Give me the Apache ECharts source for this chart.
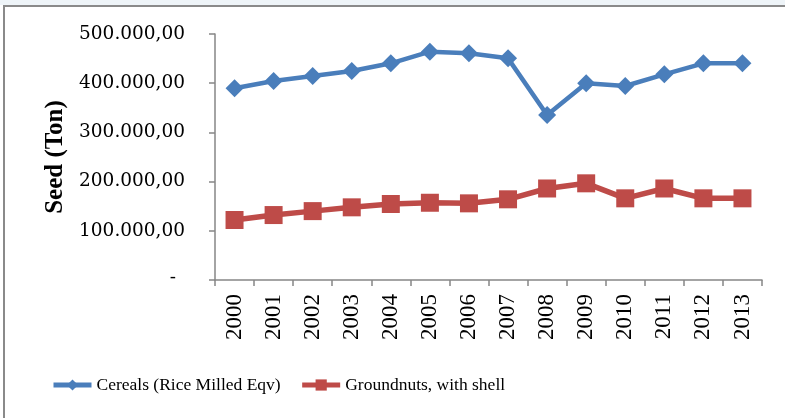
<!DOCTYPE html>
<html>
<head>
<meta charset="utf-8">
<script src="https://cdn.jsdelivr.net/npm/echarts@6/dist/echarts.min.js"></script>
<style>
html,body{margin:0;padding:0;background:#fff;}
#c{width:785px;height:418px;}
</style>
</head>
<body>
<div id="c"></div>
<script>
var years = ['2000','2001','2002','2003','2004','2005','2006','2007','2008','2009','2010','2011','2012','2013'];
var cereals = [389600, 404500, 414600, 424800, 440400, 464000, 460700, 450500, 335400, 399700, 394300, 418000, 440400, 440400];
var groundnuts = [122000, 132000, 140000, 147700, 154500, 157000, 155800, 164000, 186000, 196500, 166000, 186000, 166000, 166000];
var yTicks = [0, 100000, 200000, 300000, 400000, 500000];
var seriesNames = ['Cereals (Rice Milled Eqv)', 'Groundnuts, with shell'];

function fmt(v){
  if (v === 0) return '{d|-}';
  var s = String(Math.round(v));
  var out = '';
  while (s.length > 3) { out = '.' + s.slice(-3) + out; s = s.slice(0, -3); }
  return s + out + ',00';
}

var chart = echarts.init(document.getElementById('c'), null, {renderer:'canvas'});
chart.setOption({
  backgroundColor: '#ffffff',
  animation: false,
  grid: {left: 215, right: 23, top: 34, bottom: 138, containLabel: false},
  legend: {
    left: 46, top: 371,
    itemWidth: 38, itemHeight: 14, itemGap: 19,
    lineStyle: {width: 5},
    textStyle: {fontFamily: 'Liberation Serif', fontSize: 17.5, color: '#000'},
    data: seriesNames
  },
  xAxis: {
    type: 'category',
    data: years,
    boundaryGap: true,
    axisLine: {lineStyle: {color: '#868686', width: 1.5}},
    axisTick: {show: true, length: 6, lineStyle: {color: '#868686', width: 1.5}},
    axisLabel: {rotate: 90, margin: 14, fontFamily: 'Liberation Serif', fontSize: 23, color: '#000'}
  },
  yAxis: {
    type: 'value',
    min: 0, max: 500000, interval: 100000,
    name: 'Seed (Ton)',
    nameLocation: 'middle',
    nameRotate: 90,
    nameGap: 146,
    nameTextStyle: {fontFamily: 'Liberation Serif', fontWeight: 'bold', fontSize: 25, color: '#000'},
    splitLine: {show: false},
    axisLine: {show: true, lineStyle: {color: '#868686', width: 1.5}},
    axisTick: {show: true, inside: false, length: 6, lineStyle: {color: '#868686', width: 1.5}},
    axisLabel: {
      margin: 30,
      fontFamily: 'DejaVu Serif', fontSize: 18.5, color: '#000',
      formatter: fmt,
      rich: {d: {fontFamily: 'DejaVu Serif', fontSize: 18.5, color: '#000', padding: [0, 9, 4, 0]}}
    }
  },
  series: [
    {
      name: seriesNames[0], type: 'line', data: cereals,
      symbol: 'diamond', symbolSize: 18,
      itemStyle: {color: '#4a7ebb'},
      lineStyle: {color: '#4a7ebb', width: 4.5}
    },
    {
      name: seriesNames[1], type: 'line', data: groundnuts,
      symbol: 'rect', symbolSize: 18,
      itemStyle: {color: '#be4b48'},
      lineStyle: {color: '#be4b48', width: 5.5}
    }
  ],
  graphic: [
    {type: 'rect', shape: {x: 0, y: 0, width: 785, height: 5}, style: {fill: '#eef4f8'}, silent: true},
    {type: 'line', shape: {x1: 3, y1: 6, x2: 785, y2: 6}, style: {stroke: '#8a8a8a', lineWidth: 2}, silent: true},
    {type: 'line', shape: {x1: 4, y1: 5, x2: 4, y2: 418}, style: {stroke: '#8a8a8a', lineWidth: 2}, silent: true}
  ]
});
</script>
</body>
</html>
